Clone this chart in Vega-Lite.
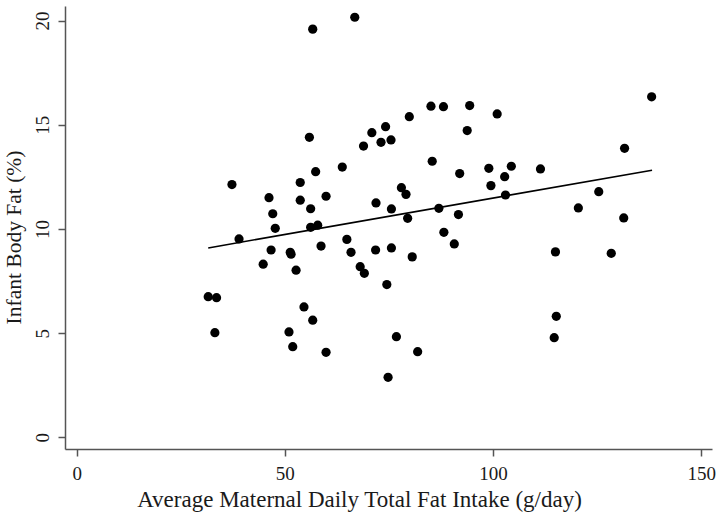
{
  "$schema": "https://vega.github.io/schema/vega-lite/v6.json",
  "width": 647,
  "height": 443,
  "autosize": {"type": "none"},
  "padding": {"left": 65, "top": 6, "right": 5, "bottom": 70},
  "background": "white",
  "config": {
    "view": {"stroke": null},
    "axis": {
      "grid": false,
      "domainColor": "#555555",
      "tickColor": "#555555",
      "domainWidth": 1.5,
      "tickWidth": 1.5,
      "tickSize": 7,
      "labelFont": "Liberation Serif",
      "titleFont": "Liberation Serif",
      "labelColor": "#1a1a1a",
      "titleColor": "#1a1a1a",
      "labelFontSize": 19,
      "titleFontSize": 23,
      "titleFontWeight": "normal"
    }
  },
  "datasets": {
    "pts": [
      {"fat": 31.6, "bf": 6.75}, {"fat": 33.6, "bf": 6.70}, {"fat": 33.2, "bf": 5.02},
      {"fat": 37.3, "bf": 12.13}, {"fat": 39.0, "bf": 9.52}, {"fat": 44.8, "bf": 8.31},
      {"fat": 46.2, "bf": 11.5}, {"fat": 46.7, "bf": 8.99}, {"fat": 47.1, "bf": 10.73},
      {"fat": 47.7, "bf": 10.03}, {"fat": 51.3, "bf": 8.88}, {"fat": 51.5, "bf": 8.79},
      {"fat": 51.0, "bf": 5.06}, {"fat": 51.9, "bf": 4.35}, {"fat": 52.7, "bf": 8.02},
      {"fat": 53.7, "bf": 12.23}, {"fat": 53.7, "bf": 11.38}, {"fat": 54.6, "bf": 6.26},
      {"fat": 55.9, "bf": 14.4}, {"fat": 56.2, "bf": 10.97}, {"fat": 56.2, "bf": 10.08},
      {"fat": 56.7, "bf": 5.62}, {"fat": 56.7, "bf": 19.59}, {"fat": 57.4, "bf": 12.75},
      {"fat": 57.9, "bf": 10.18}, {"fat": 58.7, "bf": 9.18}, {"fat": 59.9, "bf": 11.57},
      {"fat": 59.9, "bf": 4.08}, {"fat": 63.8, "bf": 12.97}, {"fat": 64.9, "bf": 9.5},
      {"fat": 65.9, "bf": 8.88}, {"fat": 66.8, "bf": 20.16}, {"fat": 68.1, "bf": 8.19},
      {"fat": 69.1, "bf": 7.87}, {"fat": 68.9, "bf": 13.98}, {"fat": 70.9, "bf": 14.62},
      {"fat": 71.8, "bf": 8.99}, {"fat": 71.9, "bf": 11.25}, {"fat": 73.1, "bf": 14.16},
      {"fat": 74.2, "bf": 14.91}, {"fat": 74.5, "bf": 7.33}, {"fat": 74.8, "bf": 2.88},
      {"fat": 75.5, "bf": 14.27}, {"fat": 75.6, "bf": 10.96}, {"fat": 75.6, "bf": 9.09},
      {"fat": 76.8, "bf": 4.83}, {"fat": 78.0, "bf": 11.98}, {"fat": 79.1, "bf": 11.66},
      {"fat": 79.5, "bf": 10.51}, {"fat": 79.9, "bf": 15.39}, {"fat": 80.6, "bf": 8.66},
      {"fat": 81.9, "bf": 4.11}, {"fat": 85.1, "bf": 15.89}, {"fat": 85.4, "bf": 13.25},
      {"fat": 87.0, "bf": 10.99}, {"fat": 88.1, "bf": 15.87}, {"fat": 88.2, "bf": 9.84},
      {"fat": 90.7, "bf": 9.28}, {"fat": 91.7, "bf": 10.69}, {"fat": 92.0, "bf": 12.66},
      {"fat": 93.8, "bf": 14.72}, {"fat": 94.4, "bf": 15.92}, {"fat": 99.0, "bf": 12.91},
      {"fat": 99.5, "bf": 12.08}, {"fat": 101.0, "bf": 15.52}, {"fat": 102.8, "bf": 12.51},
      {"fat": 103.0, "bf": 11.63}, {"fat": 104.4, "bf": 13.01}, {"fat": 111.4, "bf": 12.88},
      {"fat": 114.7, "bf": 4.78}, {"fat": 115.0, "bf": 8.90}, {"fat": 115.2, "bf": 5.81},
      {"fat": 120.5, "bf": 11.01}, {"fat": 125.4, "bf": 11.79}, {"fat": 128.4, "bf": 8.83},
      {"fat": 131.4, "bf": 10.53}, {"fat": 131.6, "bf": 13.87}, {"fat": 138.1, "bf": 16.34}
    ],
    "fit": [
      {"fat": 31.6, "bf": 9.09},
      {"fat": 138.2, "bf": 12.82}
    ]
  },
  "layer": [
    {
      "data": {"name": "fit"},
      "mark": {"type": "line", "color": "black", "strokeWidth": 1.6},
      "encoding": {
        "x": {"field": "fat", "type": "quantitative"},
        "y": {"field": "bf", "type": "quantitative"}
      }
    },
    {
      "data": {"name": "pts"},
      "mark": {"type": "circle", "color": "black", "opacity": 1, "size": 85},
      "encoding": {
        "x": {
          "field": "fat", "type": "quantitative",
          "scale": {"domain": [-2.8, 152.6], "nice": false, "zero": false},
          "axis": {"values": [0, 50, 100, 150], "title": "Average Maternal Daily Total Fat Intake (g/day)", "titleX": 294, "labelPadding": 8, "titlePadding": 5}
        },
        "y": {
          "field": "bf", "type": "quantitative",
          "scale": {"domain": [-0.56, 20.7], "nice": false, "zero": false},
          "axis": {"values": [0, 5, 10, 15, 20], "title": "Infant Body Fat (%)", "titleFontSize": 21.5, "titleY": 231, "labelAngle": -90, "labelAlign": "center", "labelBaseline": "bottom", "labelPadding": 6, "titlePadding": 8}
        }
      }
    }
  ]
}
